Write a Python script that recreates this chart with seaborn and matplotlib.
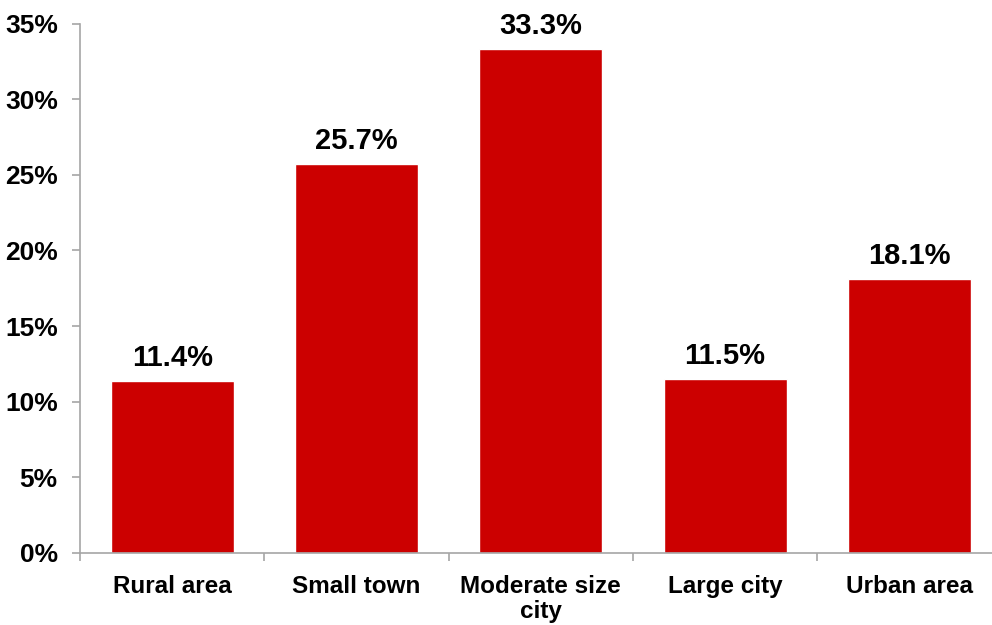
import matplotlib
matplotlib.use("Agg")
import matplotlib.pyplot as plt
from matplotlib.ticker import FixedLocator, PercentFormatter
import seaborn as sns
import pandas as pd

categories = ["Rural area", "Small town", "Moderate size\ncity", "Large city", "Urban area"]
shares = [11.4, 25.7, 33.3, 11.5, 18.1]
y_ticks = [0, 5, 10, 15, 20, 25, 30, 35]

sns.set_style("white")
plt.rcParams["font.family"] = ["Liberation Sans", "DejaVu Sans"]
plt.rcParams["font.weight"] = "bold"
plt.rcParams["text.color"] = "black"
plt.rcParams["xtick.color"] = "black"
plt.rcParams["ytick.color"] = "black"

df = pd.DataFrame({"area": categories, "share": shares})

W, H = 992, 625
fig = plt.figure(figsize=(W / 100, H / 100), dpi=100)
ax = fig.add_axes([80 / W, (H - 553) / H, 921.5 / W, (553 - 23.5) / H])

sns.barplot(data=df, x="area", y="share", color="#CC0000", saturation=1,
            width=0.667, ax=ax)

for i, v in enumerate(shares):
    ax.annotate(f"{v:.1f}%", (i, v), xytext=(0, 6.5), textcoords="offset points",
                ha="center", va="bottom", fontsize=21, fontweight="bold",
                color="black")

ax.set_ylim(0, 35)
ax.set_xlim(-0.5, len(categories) - 0.5)
ax.set_yticks(y_ticks)
ax.yaxis.set_major_formatter(PercentFormatter(decimals=0))
ax.set_xlabel("")
ax.set_ylabel("")

spine_color = "#A6A6A6"
for side in ("top", "right"):
    ax.spines[side].set_visible(False)
for side in ("left", "bottom"):
    ax.spines[side].set_color(spine_color)
    ax.spines[side].set_linewidth(1.2)

ax.tick_params(axis="y", which="major", direction="out", length=5.5, width=1.2,
               color=spine_color, labelcolor="black", pad=10.5, labelsize=19,
               left=True)
ax.tick_params(axis="x", which="major", length=0, pad=16, labelsize=17.5,
               labelcolor="black")
ax.xaxis.set_minor_locator(FixedLocator([i - 0.5 for i in range(len(categories) + 1)]))
ax.tick_params(axis="x", which="minor", direction="out", length=5.5, width=1.2,
               color=spine_color, bottom=True)
for lbl in ax.get_xticklabels() + ax.get_yticklabels():
    lbl.set_fontweight("bold")
for lbl in ax.get_xticklabels():
    lbl.set_linespacing(1.1)
    lbl.set_verticalalignment("top")

fig.savefig("out.png", dpi=100)
